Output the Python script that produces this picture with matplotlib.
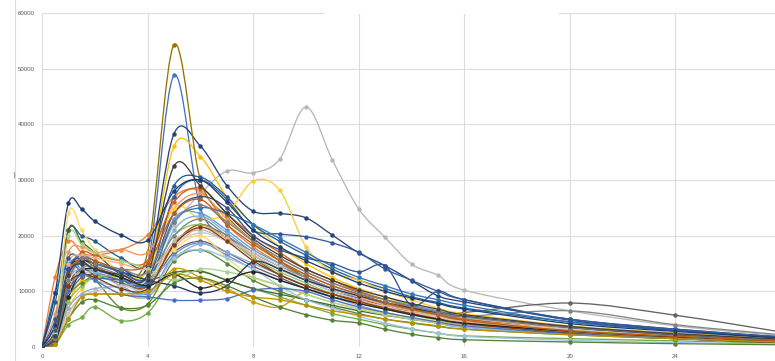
import matplotlib
matplotlib.use("Agg")
import matplotlib.pyplot as plt
from matplotlib.path import Path
from matplotlib.patches import PathPatch, Rectangle
from matplotlib.lines import Line2D

# sample times (x) shared by every series
hours = [0, 0.5, 1, 1.5, 2, 3, 4, 5, 6, 7, 8, 9, 10, 11, 12, 13, 14, 15, 16, 20, 24, 28]

s01 = [0, 3000, 14000, 16500, 15500, 14000, 15000, 48800, 25000, 20000, 16500, 14000, 12000, 10000, 8800, 7800, 6800, 5800, 5000, 3000, 1800, 1000]
s02 = [0, 12600, 19000, 17000, 16500, 17500, 20100, 27000, 28000, 22000, 18000, 15000, 12500, 10500, 9000, 7500, 6500, 5500, 4500, 2800, 1800, 1000]
s03 = [0, 2000, 12000, 15000, 14000, 13000, 12500, 22000, 27500, 31600, 31300, 33700, 43100, 33600, 24800, 19700, 14900, 12900, 10200, 6500, 3800, 2000]
s04 = [0, 1000, 8000, 12000, 13000, 12500, 13000, 36100, 34200, 27000, 22000, 18000, 15000, 12500, 10500, 9000, 7500, 6500, 5500, 3500, 2200, 1300]
s05 = [0, 4000, 15000, 14000, 13500, 12000, 11000, 23000, 24000, 21000, 17500, 15000, 13000, 11000, 9500, 8500, 7500, 6500, 5500, 3500, 2500, 1500]
s06 = [0, 500, 4000, 5300, 7200, 4700, 6100, 12500, 13600, 12000, 10500, 9000, 7500, 6000, 5000, 4000, 3200, 2500, 2000, 1500, 1100, 700]
s07 = [0, 2000, 13000, 15500, 15000, 14000, 14500, 38300, 36100, 29000, 24400, 24000, 23200, 20100, 16900, 14600, 11900, 9200, 8100, 5000, 3200, 1800]
s08 = [0, 1500, 11000, 14000, 13000, 11500, 11000, 18500, 22000, 19500, 16000, 13000, 11000, 9500, 8500, 7500, 6500, 5500, 4500, 2500, 1500, 800]
s09 = [0, 1000, 9000, 12500, 13000, 12000, 11000, 17000, 19000, 17000, 14500, 12500, 10500, 9000, 8000, 7000, 6500, 6200, 6200, 7900, 5700, 2700]
s10 = [0, 1500, 12000, 15500, 14500, 13000, 17000, 54300, 30000, 23500, 19000, 15500, 12500, 10500, 9000, 7800, 6800, 5800, 5000, 3000, 2000, 1200]
s11 = [0, 8000, 21000, 20000, 19000, 16000, 15000, 29000, 30500, 27000, 22000, 19000, 16500, 14000, 12000, 10500, 9000, 8000, 7000, 4500, 3000, 1800]
s12 = [0, 3000, 21000, 18900, 17000, 13000, 12000, 13400, 13600, 12000, 10500, 9500, 8500, 7500, 6500, 5700, 5000, 4300, 3700, 2500, 1700, 1000]
s13 = [0, 2500, 13000, 15000, 14000, 12500, 9500, 16500, 18700, 16500, 14000, 12000, 10500, 9000, 8000, 7000, 6000, 5200, 4500, 3000, 2000, 1200]
s14 = [0, 6000, 17000, 18000, 17000, 17500, 17000, 25000, 27500, 23000, 19000, 16000, 13500, 11500, 10000, 8500, 7200, 6200, 5300, 3300, 2200, 1300]
s15 = [0, 1500, 10000, 13000, 13500, 13000, 12000, 19000, 21000, 19000, 16500, 14000, 12000, 10500, 9000, 8000, 7000, 6000, 5200, 3600, 2500, 1500]
s16 = [0, 1000, 7000, 10500, 12500, 13000, 13500, 25000, 23000, 24000, 29800, 28200, 18000, 13500, 12000, 10000, 8500, 7000, 6000, 3800, 2500, 1500]
s17 = [0, 2000, 12000, 14000, 13500, 11000, 10000, 21000, 23500, 20500, 17000, 14500, 12500, 10500, 9000, 7800, 6800, 5800, 4800, 3000, 2000, 1100]
s18 = [0, 1000, 8000, 11000, 12500, 13000, 12500, 20000, 22000, 19500, 16000, 13500, 11500, 9500, 8000, 6800, 5800, 4800, 4000, 2700, 1800, 1000]
s19 = [0, 5000, 16000, 15500, 14000, 12500, 12000, 27000, 30000, 26500, 21000, 20300, 19800, 18700, 17000, 14000, 12000, 10000, 8500, 5000, 3200, 1800]
s20 = [0, 3000, 13000, 17000, 16500, 15500, 15500, 26000, 28500, 24000, 20000, 17000, 14000, 12000, 10000, 8500, 7000, 6000, 5000, 3000, 1800, 1000]
s21 = [0, 1000, 10000, 14000, 14500, 13000, 12500, 20000, 23000, 20000, 17000, 14500, 12500, 10500, 9000, 7800, 6800, 6000, 5500, 6500, 4000, 2200]
s22 = [0, 500, 6000, 9000, 9500, 9500, 9000, 14000, 12500, 10500, 8100, 7200, 10000, 9500, 8000, 7000, 6000, 5200, 4500, 3000, 2000, 1200]
s23 = [0, 9800, 15000, 13500, 12500, 12000, 11500, 22500, 25000, 24000, 22000, 19500, 17000, 14500, 12500, 11000, 9500, 8500, 7500, 4500, 3000, 1700]
s24 = [0, 1500, 9000, 11500, 12000, 7000, 7700, 15500, 17400, 15000, 12000, 10000, 8500, 7200, 6000, 5000, 4300, 3700, 3200, 2200, 1500, 900]
s25 = [0, 1000, 7000, 9500, 10500, 11000, 12000, 16000, 18500, 17000, 15000, 13000, 11000, 9000, 7500, 6200, 5200, 4300, 3500, 2300, 1500, 900]
s26 = [0, 3000, 15000, 16500, 16000, 15000, 14000, 18000, 21500, 19500, 16500, 14000, 12000, 10500, 9000, 7500, 6500, 5500, 4500, 2800, 1800, 1000]
s27 = [0, 500, 6000, 9000, 10000, 11000, 10500, 18000, 20500, 19000, 17000, 14500, 12000, 10000, 8500, 7200, 6200, 5400, 4700, 3200, 2200, 1300]
s28 = [0, 3000, 24000, 21000, 17500, 13500, 12500, 17500, 20000, 16000, 12500, 11000, 9500, 8000, 7000, 6000, 5200, 4500, 3800, 2500, 1600, 1000]
s29 = [0, 1500, 12000, 13000, 12000, 10500, 9000, 16000, 17500, 16000, 14000, 11000, 8500, 7000, 5500, 4300, 3300, 2500, 1900, 1200, 800, 500]
s30 = [0, 2500, 20000, 18500, 17000, 15500, 14000, 12000, 14000, 13500, 12500, 11000, 9500, 8000, 6800, 5800, 5000, 4300, 3700, 2500, 1700, 1000]
s31 = [0, 4000, 14000, 15500, 15000, 13500, 12000, 11000, 9700, 11000, 15300, 14000, 12000, 10500, 9200, 8000, 7000, 6200, 5500, 3500, 2200, 1300]
s32 = [0, 1500, 11000, 13000, 12500, 10500, 10500, 18300, 21500, 19000, 15500, 13000, 11000, 9500, 8200, 7000, 6000, 5000, 4200, 2500, 1500, 800]
s33 = [0, 1000, 9000, 13500, 14000, 12500, 11000, 13000, 10600, 12000, 13500, 12000, 10500, 9000, 7800, 6800, 5800, 5000, 4300, 2800, 1800, 1000]
s34 = [0, 2000, 10000, 13000, 12000, 9500, 9000, 8400, 8400, 8700, 10200, 10500, 10000, 8500, 7200, 6200, 5300, 4500, 3800, 2400, 1500, 900]
s35 = [0, 500, 5000, 8000, 8500, 7000, 7500, 11500, 12400, 11000, 9000, 7200, 5800, 4800, 4300, 3200, 2300, 1700, 1300, 900, 600, 400]
s36 = [0, 3000, 14000, 16000, 15000, 13500, 12500, 24000, 27000, 25000, 20000, 17500, 16000, 15000, 13500, 14600, 7500, 10000, 8500, 4800, 3000, 1700]
s37 = [0, 500, 5000, 9000, 9500, 9500, 10000, 13000, 12000, 10000, 9000, 8500, 7500, 6500, 5800, 5000, 4400, 3800, 3200, 2200, 1500, 900]
s38 = [0, 2000, 13000, 16000, 15500, 14000, 15000, 24000, 26500, 22000, 18500, 15500, 13000, 11000, 9500, 8000, 6800, 5800, 4800, 2900, 1900, 1100]
s39 = [0, 1500, 12000, 16000, 15000, 14000, 13500, 22500, 25500, 22500, 19000, 16000, 13500, 11500, 9800, 8500, 7300, 6300, 5400, 3500, 2300, 1300]
s40 = [0, 9700, 25800, 24800, 22600, 20100, 19200, 28000, 30000, 26000, 21000, 18000, 15500, 13500, 11500, 10000, 8800, 7800, 6800, 4200, 2800, 1600]
s41 = [0, 2000, 13000, 15000, 14000, 13000, 13000, 32500, 29000, 24000, 19500, 16500, 14000, 12000, 10300, 9000, 7800, 6800, 5800, 3700, 2400, 1400]

series = [
    (s01, '#4472C4'), (s02, '#ED7D31'), (s03, '#B8B8B8'), (s04, '#FFC000'),
    (s05, '#5B9BD5'), (s06, '#70AD47'), (s07, '#264478'), (s08, '#9E480E'),
    (s09, '#636363'), (s10, '#997300'), (s11, '#255E91'), (s12, '#43682B'),
    (s13, '#698ED0'), (s14, '#F1975A'), (s15, '#B7B7B7'), (s16, '#FFCD33'),
    (s17, '#7CAFDD'), (s18, '#8CC168'), (s19, '#335AA1'), (s20, '#D26012'),
    (s21, '#848484'), (s22, '#CC9A00'), (s23, '#3275B3'), (s24, '#5A8A39'),
    (s25, '#8FAADC'), (s26, '#F4B183'), (s27, '#C9C9C9'), (s28, '#FFD966'),
    (s29, '#9DC3E6'), (s30, '#A9D18E'), (s31, '#203864'), (s32, '#843C0C'),
    (s33, '#262626'), (s34, '#4A6FC0'), (s35, '#548235'), (s36, '#2F5597'),
    (s37, '#BF9000'), (s38, '#C55A11'), (s39, '#7F7F7F'), (s40, '#1F3F73'),
    (s41, '#404040'),
]

y_ticks = [0, 10000, 20000, 30000, 40000, 50000, 60000]
x_ticks = [0, 4, 8, 12, 16, 20, 24]


def smooth_path(xs, ys):
    # excel-like smoothed line: bezier segments with catmull-rom handles
    pts = list(zip(xs, ys))
    n = len(pts)
    verts = [pts[0]]
    codes = [Path.MOVETO]
    for i in range(n - 1):
        p0 = pts[i - 1] if i > 0 else pts[i]
        p1 = pts[i]
        p2 = pts[i + 1]
        p3 = pts[i + 2] if i + 2 < n else pts[i + 1]
        c1 = (p1[0] + (p2[0] - p0[0]) / 6, p1[1] + (p2[1] - p0[1]) / 6)
        c2 = (p2[0] - (p3[0] - p1[0]) / 6, p2[1] - (p3[1] - p1[1]) / 6)
        verts += [c1, c2, p2]
        codes += [Path.CURVE4] * 3
    return Path(verts, codes)


fig = plt.figure(figsize=(7.75, 3.61), dpi=100)
ax = fig.add_axes([42 / 775, 14 / 361, 1 - 42 / 775, 334 / 361])

for vals, col in series:
    ax.add_patch(PathPatch(smooth_path(hours, vals), fill=False,
                           edgecolor=col, lw=0.95, zorder=3))
    ax.plot(hours, vals, 'o', ms=2.2, color=col, mec=col, zorder=4)

ax.set_xlim(0, 27.77)
ax.set_ylim(0, 60000)
ax.set_xticks(x_ticks)
ax.set_yticks(y_ticks)
ax.set_xticklabels([str(t) for t in x_ticks])
ax.set_yticklabels([str(t) for t in y_ticks])
ax.grid(True, color='#DCDCDC', lw=0.8, zorder=0)
ax.set_axisbelow(True)
for sp in ax.spines.values():
    sp.set_visible(False)
ax.tick_params(length=0, labelsize=4.4, labelcolor='#595959', pad=5)
for lab in ax.get_xticklabels() + ax.get_yticklabels():
    lab.set_fontfamily('Liberation Sans')

# cropped screenshot leftovers: chart border at the left, a gap in the top line
fig.add_artist(Line2D([15 / 775, 15 / 775], [0, 1], color='#DCDCDC', lw=0.8))
fig.text(14 / 775, 1 - 175 / 361, ')', fontsize=5, color='#595959',
         ha='center', va='center')
fig.add_artist(Rectangle((324 / 775, 1 - 14 / 361), 235 / 775, 14 / 361,
                         facecolor='white', edgecolor='none', zorder=10))

fig.savefig('out.png', dpi=100)
